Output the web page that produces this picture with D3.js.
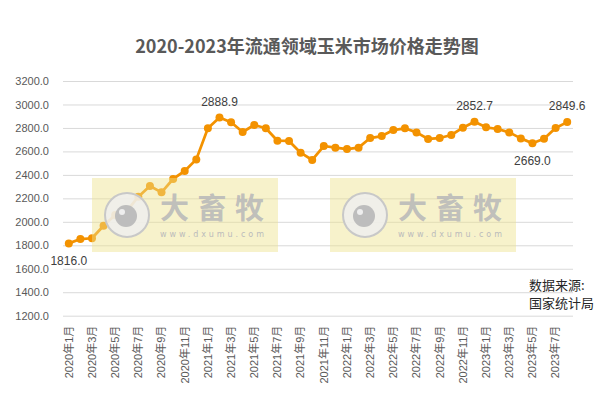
<!DOCTYPE html>
<html><head><meta charset="utf-8">
<script src="https://cdn.jsdelivr.net/npm/d3@7"></script>
<style>body{margin:0;background:#fff;}svg{display:block;}</style>
</head><body>
<svg id="c" width="614" height="403"></svg>
<script>
const months = [];
for (let y = 2020; y <= 2023; y++) for (let m = 1; m <= 12; m++) { if (y === 2023 && m > 8) break; months.push(y + "年" + m + "月"); }
const prices = [1816.0,1853,1860,1967,2058,2092,2214,2305,2251,2365,2433,2532,
  2797,2888.9,2848,2765,2825,2797,2691,2689,2589,2527,2646,2632,
  2620,2632,2714,2731,2782,2797,2762,2706,2714,2740,2802,2852.7,
  2805,2791,2762,2711,2669.0,2708,2800,2849.6];
const yTicks = [1200,1400,1600,1800,2000,2200,2400,2600,2800,3000,3200];
const labelled = {0:"below",13:"above",35:"above",40:"below",43:"above"};

const svg = d3.select("#c");
const font = "'Liberation Sans','Noto Sans CJK SC',sans-serif";
const L = 63, R = 573, T = 81, B = 315.7;
const x = d3.scaleBand().domain(months).range([L, R]);
const y = d3.scaleLinear().domain([1200, 3200]).range([B, T]);

svg.append("text").attr("x", 307).attr("y", 53).attr("text-anchor", "middle")
  .attr("font-family", "'Noto Sans CJK SC',sans-serif").attr("font-weight", "bold")
  .attr("font-size", 18).attr("fill", "#595959").text("2020-2023年流通领域玉米市场价格走势图");

const ga = svg.append("g").attr("transform", `translate(${L},0)`)
  .call(d3.axisLeft(y).tickValues(yTicks).tickSize(-(R - L)).tickFormat(d3.format(".1f")));
ga.select(".domain").remove();
ga.selectAll("line").attr("stroke", "#d9d9d9");
ga.selectAll("text").attr("x", -14).attr("font-family", font).attr("font-size", 11).attr("fill", "#595959");

const gx = svg.append("g").attr("transform", `translate(0,${B})`)
  .call(d3.axisBottom(x).tickValues(months.filter((d, i) => i % 2 === 0)).tickSize(0));
gx.select(".domain").remove();
gx.selectAll("text").attr("transform", "rotate(-90)").attr("text-anchor", "end")
  .attr("x", -10).attr("y", 0).attr("dy", "0.35em")
  .attr("font-family", font).attr("font-size", 11).attr("fill", "#595959");

const col = "#f39200";
svg.append("path").datum(prices)
  .attr("d", d3.line().x((d, i) => x(months[i]) + x.bandwidth() / 2).y(d => y(d)))
  .attr("fill", "none").attr("stroke", col).attr("stroke-width", 2.75).attr("stroke-linejoin", "round");
svg.selectAll("circle.pt").data(prices).join("circle").attr("class", "pt")
  .attr("cx", (d, i) => x(months[i]) + x.bandwidth() / 2).attr("cy", d => y(d)).attr("r", 4).attr("fill", col);

Object.entries(labelled).forEach(([i, pos]) => {
  i = +i;
  svg.append("text").attr("x", x(months[i]) + x.bandwidth() / 2)
    .attr("y", y(prices[i]) + (pos === "above" ? -12 : 22))
    .attr("text-anchor", "middle").attr("font-family", font).attr("font-size", 12).attr("fill", "#404040")
    .text(prices[i].toFixed(1));
});

// watermarks
[[92, 178], [330, 178]].forEach(([bx, by]) => {
  const g = svg.append("g");
  g.append("rect").attr("x", bx).attr("y", by).attr("width", 186).attr("height", 74)
    .attr("fill", "rgb(238,226,140)").attr("opacity", 0.45);
  const cx = bx + 35, cy = by + 37;
  g.append("circle").attr("cx", cx).attr("cy", cy).attr("r", 22).attr("fill", "#efefef").attr("fill-opacity", 0.85)
    .attr("stroke", "#c8c8c8").attr("stroke-width", 2);
  g.append("circle").attr("cx", cx - 1).attr("cy", cy + 1).attr("r", 11).attr("fill", "#bdbdbd");
  g.append("circle").attr("cx", cx - 5).attr("cy", cy - 3).attr("r", 3).attr("fill", "#eeeeee");
  g.append("text").attr("x", bx + 68).attr("y", by + 41).attr("font-family", "'Noto Sans CJK SC',sans-serif")
    .attr("font-weight", "bold").attr("font-size", 29).attr("fill", "#b9b9b9").attr("fill-opacity", 0.9)
    .attr("textLength", 104).text("大畜牧");
  g.append("text").attr("x", bx + 68).attr("y", by + 59).attr("font-family", "'DejaVu Sans',sans-serif")
    .attr("font-size", 8).attr("fill", "#bbbbbb").attr("textLength", 104).text("www.dxumu.com");
});

svg.append("text").attr("x", 529).attr("y", 290).attr("font-family", "'Noto Sans CJK SC',sans-serif")
  .attr("font-size", 13).attr("fill", "#262626").text("数据来源:");
svg.append("text").attr("x", 529).attr("y", 308).attr("font-family", "'Noto Sans CJK SC',sans-serif")
  .attr("font-size", 13).attr("fill", "#262626").text("国家统计局");
</script>
</body></html>
